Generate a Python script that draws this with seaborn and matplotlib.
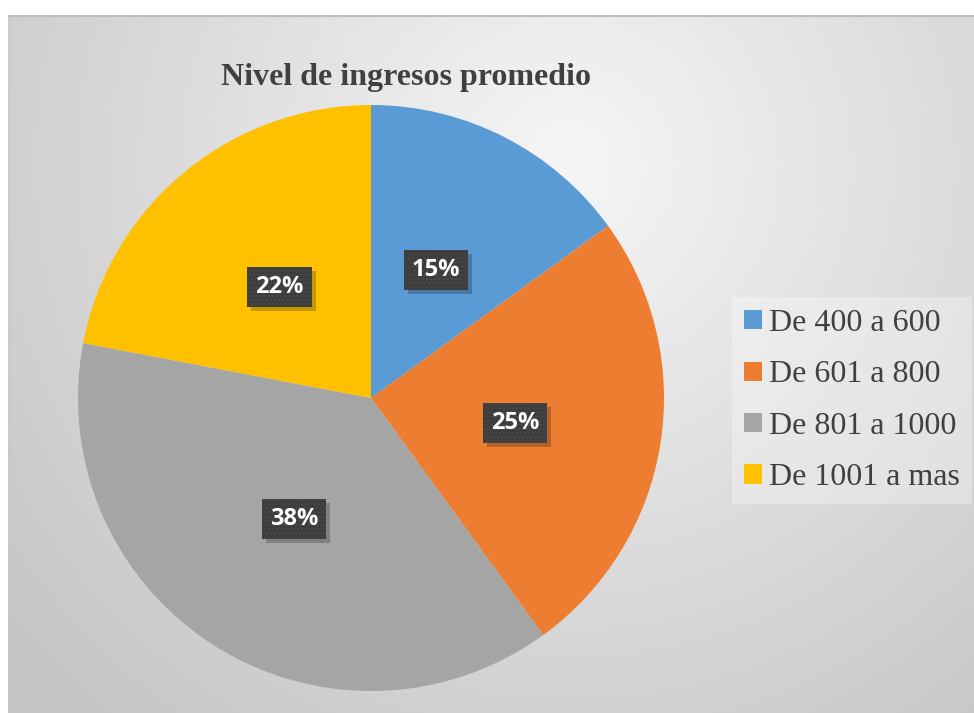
import numpy as np
import matplotlib
matplotlib.use("Agg")
import matplotlib.pyplot as plt
from matplotlib.patches import Patch, Rectangle
from matplotlib.transforms import IdentityTransform
import seaborn as sns

# ---- data ----
categories = ["De 400 a 600", "De 601 a 800", "De 801 a 1000", "De 1001 a mas"]
values = [15, 25, 38, 22]
title_text = "Nivel de ingresos promedio"

# ---- style ----
colors = ["#5B9BD5", "#ED7D31", "#A5A5A5", "#FFC000"]
sns.set_theme(style="white")
plt.rcParams["font.family"] = ["Liberation Serif", "DejaVu Serif"]

W, H = 974, 713
fig = plt.figure(figsize=(W / 100, H / 100), dpi=100)
fig.patch.set_facecolor("white")

# background chart area with radial gradient
x0, y0top = 8, 15
bg = fig.add_axes([x0 / W, 0, (W - x0) / W, (H - y0top) / H], zorder=0)
bw, bh = W - x0, H - y0top
xx, yy = np.meshgrid(np.arange(bw), np.arange(bh))
cx, cy = 560, 150
d = np.sqrt((xx - cx) ** 2 + (yy - cy) ** 2) / 720.0
d = np.clip(d, 0, 1)
inner, outer = 0.965, 0.775
img = inner + (outer - inner) * d
bg.imshow(np.dstack([img, img, img]), aspect="auto", extent=[0, bw, bh, 0])
bg.set_xlim(0, bw)
bg.set_ylim(bh, 0)
bg.axis("off")
bg.plot([0, bw], [0.5, 0.5], color="#bdbdbd", lw=1.5)
bg.plot([0.5, 0.5], [0, bh], color="#c8c8c8", lw=1.0)

# pie axes
pcx, pcy, R = 371, H - 398, 293
ax = fig.add_axes([(pcx - R) / W, (pcy - R) / H, 2 * R / W, 2 * R / H], zorder=1)
ax.set_facecolor("none")
lab_font = dict(color="white", fontsize=17, fontweight="bold",
                family=["Open Sans", "DejaVu Sans"])
wedges, texts, autotexts = ax.pie(
    values,
    colors=colors,
    startangle=90,
    counterclock=False,
    autopct=lambda p: f"{p:.0f}%",
    pctdistance=0.49,
    wedgeprops=dict(linewidth=0),
    textprops=lab_font,
)
ax.set_xlim(-1, 1)
ax.set_ylim(-1, 1)
ax.set_aspect("equal")
ax.axis("off")

# the 25% label is placed by Excel closer to horizontal
ang = np.deg2rad(90 - 100)
autotexts[1].set_position((0.50 * np.cos(ang), 0.50 * np.sin(ang)))

for t in autotexts:
    t.set_bbox(dict(boxstyle="square,pad=0.34", facecolor="#3d3d3d",
                    edgecolor="#4a4a4a", linewidth=0, hatch="...."))
    t.set_zorder(5)

# title
fig.text(406 / W, 1 - 77 / H, title_text, ha="center", va="center",
         fontsize=23, fontweight="bold", color="#404040")

# shadows behind label boxes
fig.canvas.draw()
renderer = fig.canvas.get_renderer()
for t in autotexts:
    bb = t.get_bbox_patch().get_window_extent(renderer)
    ax.add_artist(Rectangle((bb.x0 + 4, bb.y0 - 4), bb.width, bb.height,
                            transform=IdentityTransform(), facecolor="black",
                            alpha=0.22, linewidth=0, zorder=4))

# legend
handles = [Patch(facecolor=c, edgecolor="none") for c in colors]
leg = fig.legend(handles, categories, loc="upper left",
                 bbox_to_anchor=(732 / W, 1 - 297 / H),
                 fontsize=23, frameon=True, handlelength=0.55, handleheight=0.55,
                 handletextpad=0.22, labelspacing=0.70, borderpad=0.38,
                 borderaxespad=0, fancybox=False)
leg.get_frame().set_facecolor("white")
leg.get_frame().set_alpha(0.3)
leg.get_frame().set_linewidth(0)
for txt in leg.get_texts():
    txt.set_color("#404040")

fig.savefig("out.png", dpi=100, facecolor="white")
